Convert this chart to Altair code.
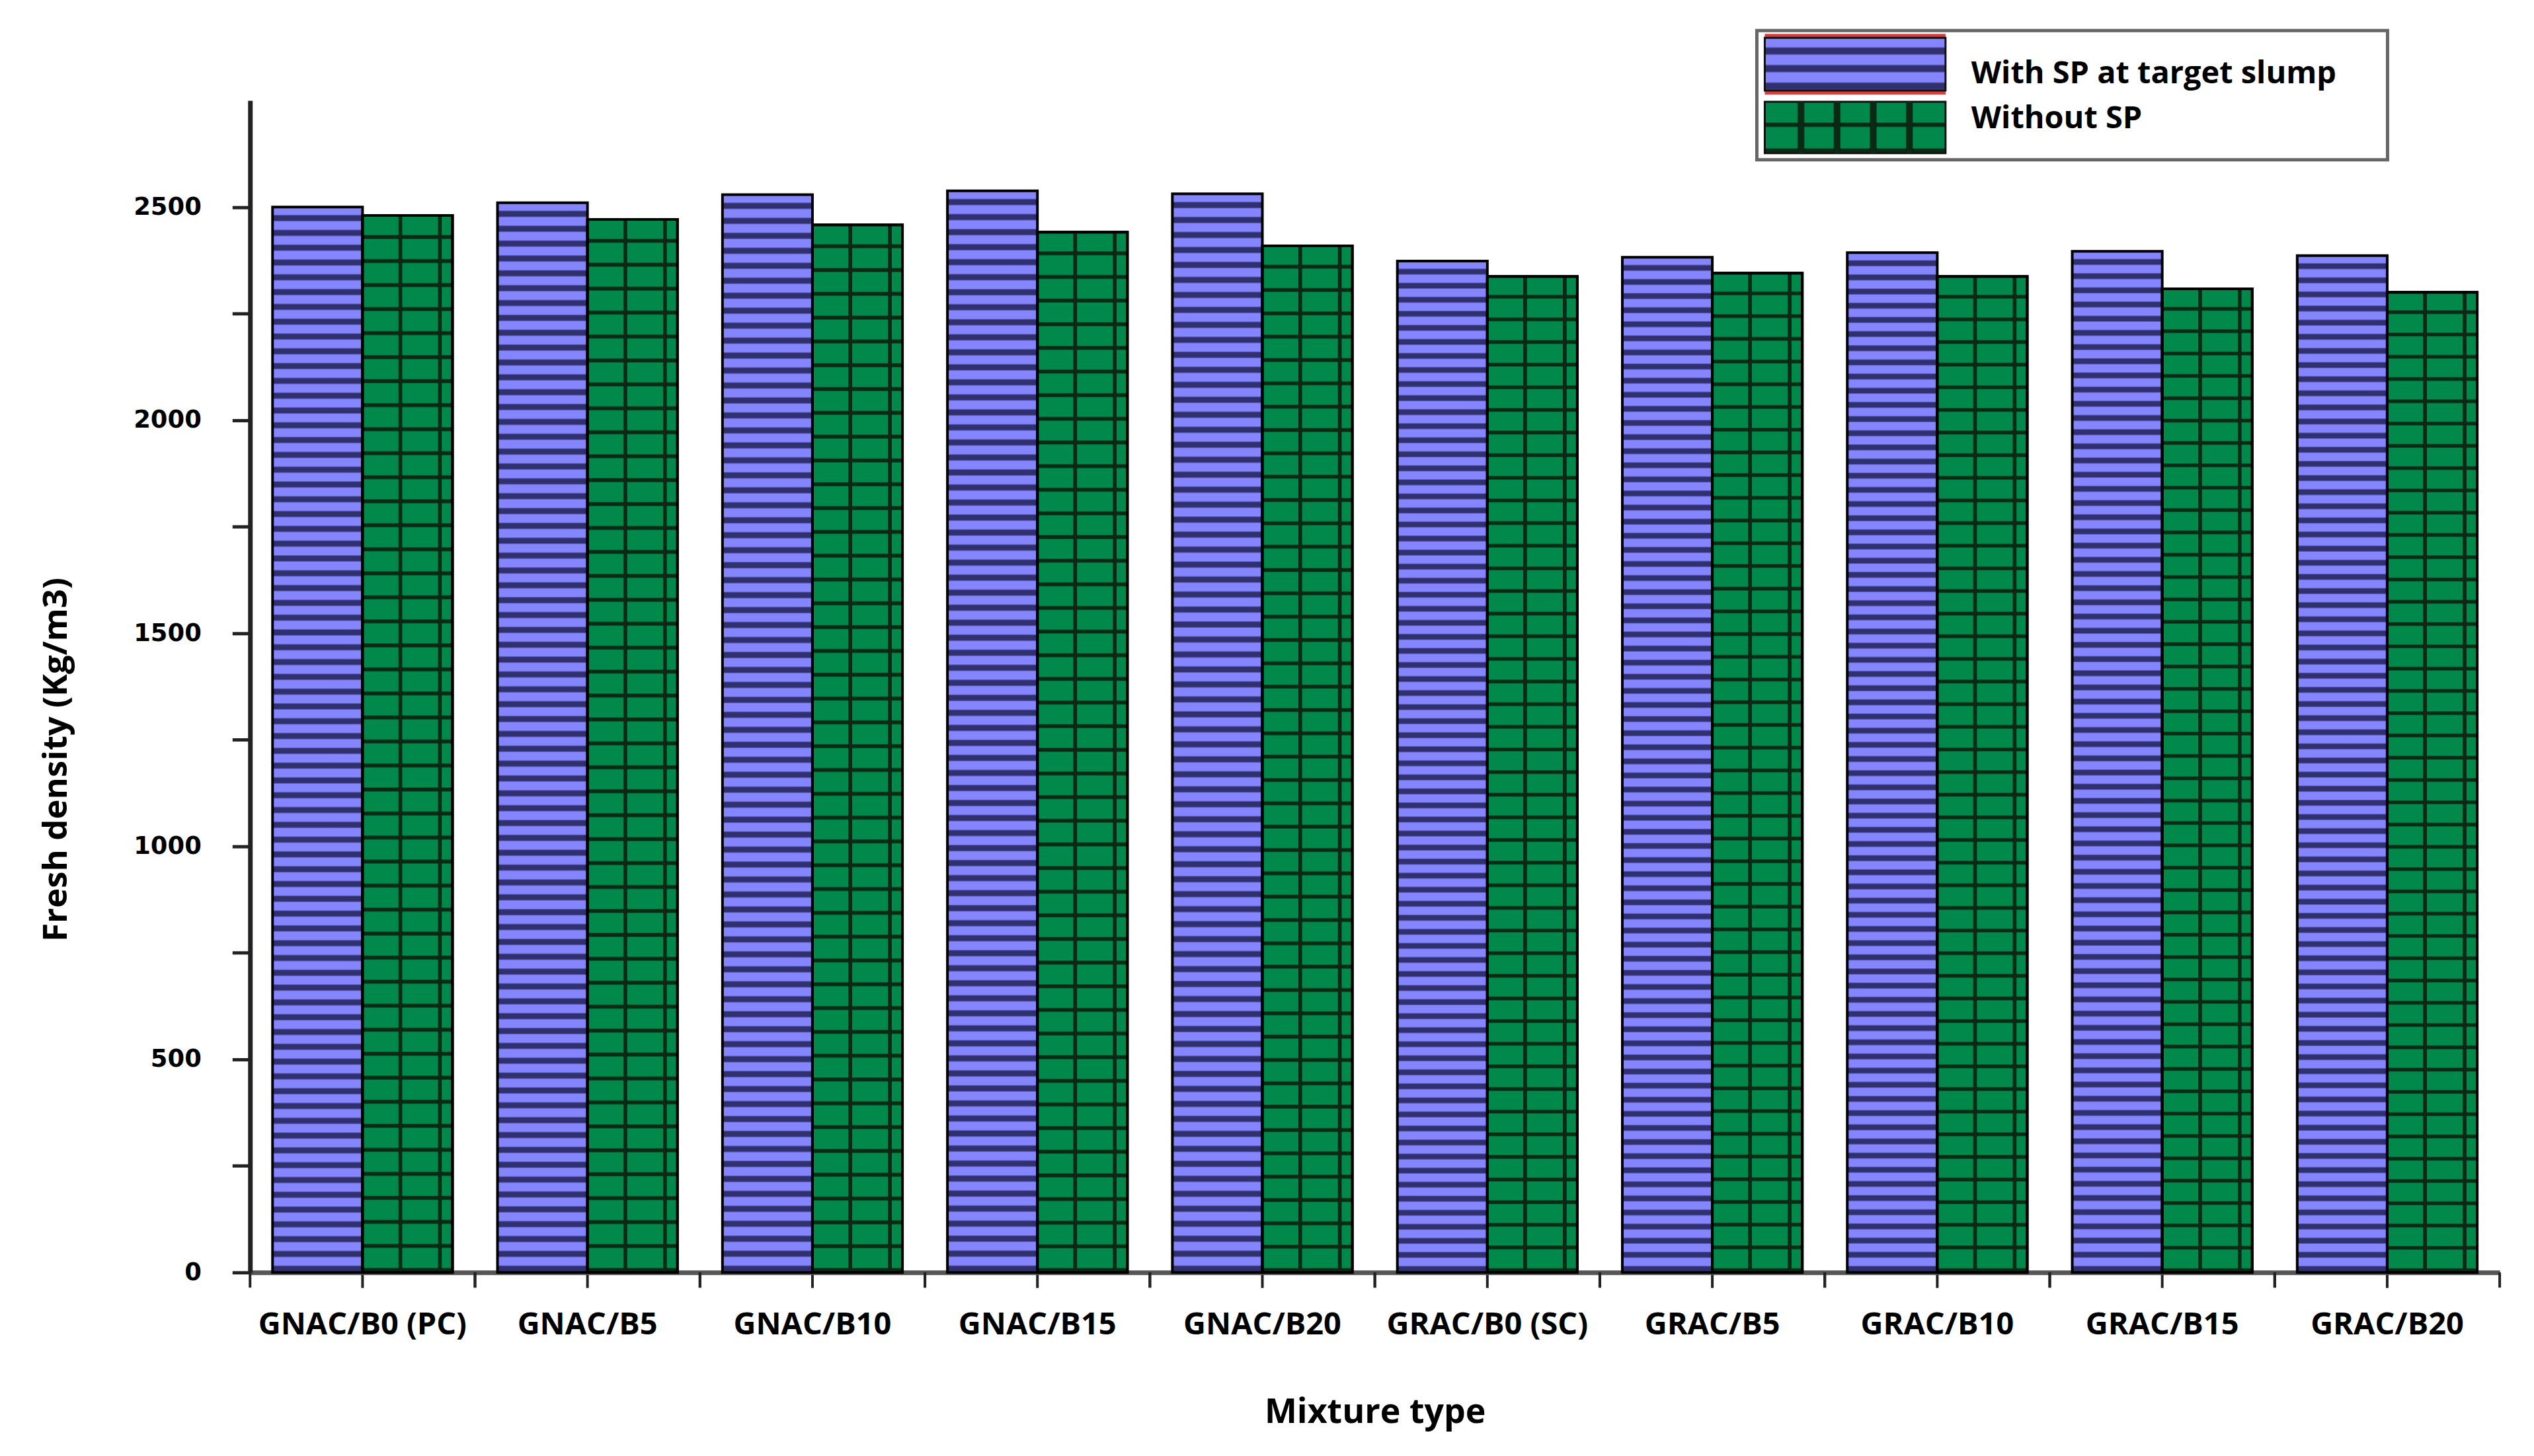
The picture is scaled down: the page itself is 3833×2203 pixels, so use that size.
import altair as alt
import pandas as pd

# ---------------- data ----------------
mixtures = ["GNAC/B0 (PC)", "GNAC/B5", "GNAC/B10", "GNAC/B15", "GNAC/B20",
            "GRAC/B0 (SC)", "GRAC/B5", "GRAC/B10", "GRAC/B15", "GRAC/B20"]
series = ["With SP at target slump", "Without SP"]
with_sp = [2500, 2510, 2529, 2538, 2531, 2373, 2382, 2393, 2396, 2386]
without_sp = [2480, 2471, 2458, 2441, 2409, 2337, 2345, 2337, 2308, 2300]
y_ticks = [0, 250, 500, 750, 1000, 1250, 1500, 1750, 2000, 2250, 2500]
y_max = 2750

rows = []
for m, a, b in zip(mixtures, with_sp, without_sp):
    rows.append({"mix": m, "series": series[0], "value": a})
    rows.append({"mix": m, "series": series[1], "value": b})
df = pd.DataFrame(rows)
cat_df = pd.DataFrame({"mix": mixtures})

# ---------------- styles ----------------
W, H = 3410, 1777
T = "rgba(0,0,0,0)"
BLUE_L, BLUE_D = "#8585FF", "#30306E"
GREEN, GREEN_D = "#00894A", "#0A2A16"


def stripes(n, base, line, frac, soft, vertical=True):
    stops = []
    s = 1.0 / n
    for i in range(n):
        o = i * s
        pts = [(o, base), (o + s * (1 - frac - soft), base), (o + s * (1 - frac), line),
               (o + s * (1 - soft), line), (o + s, base)]
        for off, c in pts:
            stops.append({"offset": round(min(max(off, 0.0), 1.0), 5), "color": c})
    g = {"gradient": "linear", "stops": stops, "x1": 0, "y1": 0}
    if vertical:
        g.update({"x2": 0, "y2": 1})
    else:
        g.update({"x2": 1, "y2": 0})
    return g


def vlines(positions, width, color):
    stops = [{"offset": 0, "color": T}]
    for p in positions:
        stops += [{"offset": round(p - width / 2 - 0.006, 5), "color": T},
                  {"offset": round(p - width / 2, 5), "color": color},
                  {"offset": round(p + width / 2, 5), "color": color},
                  {"offset": round(p + width / 2 + 0.006, 5), "color": T}]
    stops.append({"offset": 1, "color": T})
    return {"gradient": "linear", "stops": stops, "x1": 0, "y1": 0, "x2": 1, "y2": 0}


blue_fill = stripes(72, BLUE_L, BLUE_D, 0.4, 0.1)
green_fill = stripes(44, GREEN, GREEN_D, 0.16, 0.05)
green_grid = vlines([0.42, 0.86], 0.035, GREEN_D)
blue_leg = stripes(3, BLUE_L, BLUE_D, 0.4, 0.1)
green_leg = stripes(2, GREEN, GREEN_D, 0.16, 0.05)
green_leg_grid = vlines([0.2, 0.4, 0.6, 0.8], 0.03, GREEN_D)

LABEL_FONT = "Open Sans"

x_axis = alt.Axis(title="Mixture type", labelAngle=0, tickSize=23, tickWidth=4,
                  tickColor="#222", domainColor="#555", domainWidth=7,
                  labelFont=LABEL_FONT, labelFontWeight="bold", labelFontSize=47,
                  labelColor="black", labelPadding=33, labelLimit=0, labelOverlap=False,
                  titleFont=LABEL_FONT, titleFontWeight="bold", titleFontSize=52,
                  titleColor="black", titleY=212, titleBaseline="middle")
y_axis = alt.Axis(values=y_ticks, format="d",
                  labelExpr="datum.value % 500 === 0 ? datum.label : ''",
                  tickSize=27, tickWidth=5, tickColor="#222", domainColor="#222",
                  domainWidth=7, labelFont="DejaVu Sans", labelFontWeight="bold",
                  labelFontSize=37, labelColor="black", labelPadding=47, grid=False,
                  title="Fresh density (Kg/m3)", titleFont=LABEL_FONT,
                  titleFontWeight="bold", titleFontSize=51, titleColor="black",
                  titleX=-293, titleY=999, titleAngle=270, titleAlign="center",
                  titleBaseline="middle")

x_scale = alt.Scale(paddingInner=0, paddingOuter=0)

base = alt.Chart(df).encode(
    x=alt.X("mix:N", sort=mixtures, axis=x_axis, scale=x_scale),
    xOffset=alt.XOffset("series:N", scale=alt.Scale(domain=series, paddingInner=0,
                                                    paddingOuter=0.25)),
    y=alt.Y("value:Q", axis=y_axis, scale=alt.Scale(domain=[0, y_max], nice=False)),
)

blue_bars = base.transform_filter(alt.datum.series == series[0]).mark_bar(
    fill=blue_fill, stroke="black", strokeWidth=4)
green_bars = base.transform_filter(alt.datum.series == series[1]).mark_bar(
    fill=green_fill, stroke="black", strokeWidth=4)
green_grid_bars = base.transform_filter(alt.datum.series == series[1]).mark_bar(
    fill=green_grid, stroke="black", strokeWidth=4)

# boundary ticks on the category axis
tick0 = alt.Chart(cat_df).mark_rule(color="#222", strokeWidth=4).encode(
    x=alt.X("mix:N", sort=mixtures, bandPosition=0, axis=x_axis, scale=x_scale),
    y=alt.value(H), y2=alt.value(H + 23))
tick1 = alt.Chart(cat_df).mark_rule(color="#222", strokeWidth=4).encode(
    x=alt.X("mix:N", sort=mixtures, bandPosition=1, axis=x_axis, scale=x_scale),
    y=alt.value(H), y2=alt.value(H + 23))

# ---------------- legend ----------------
leg1 = pd.DataFrame({"series": [series[0]]})
leg2 = pd.DataFrame({"series": [series[1]]})
LX0, LX1, LY0, LY1 = 2284, 3240, -106, 90
SX0, SX1 = 2296, 2570

leg_box = alt.Chart(leg1).mark_rect(fill="white", stroke="#666", strokeWidth=5).encode(
    x=alt.value(LX0), x2=alt.value(LX1), y=alt.value(LY0), y2=alt.value(LY1))
leg_red = alt.Chart(leg1).mark_rect(fill="#E03A3A").encode(
    x=alt.value(SX0), x2=alt.value(SX1), y=alt.value(-101), y2=alt.value(-9))
leg_blue = alt.Chart(leg1).mark_rect(fill=blue_leg, stroke="#111", strokeWidth=3).encode(
    x=alt.value(SX0), x2=alt.value(SX1), y=alt.value(-95), y2=alt.value(-15))
leg_green = alt.Chart(leg2).mark_rect(fill=green_leg, stroke="#111", strokeWidth=3).encode(
    x=alt.value(SX0), x2=alt.value(SX1), y=alt.value(2), y2=alt.value(80))
leg_green_grid = alt.Chart(leg2).mark_rect(fill=green_leg_grid).encode(
    x=alt.value(SX0), x2=alt.value(SX1), y=alt.value(2), y2=alt.value(80))
leg_t1 = alt.Chart(leg1).mark_text(align="left", baseline="middle", font=LABEL_FONT,
                                   fontWeight="bold", fontSize=47, color="black").encode(
    x=alt.value(2609), y=alt.value(-40), text="series:N")
leg_t2 = alt.Chart(leg2).mark_text(align="left", baseline="middle", font=LABEL_FONT,
                                   fontWeight="bold", fontSize=47, color="black").encode(
    x=alt.value(2609), y=alt.value(28), text="series:N")

chart = alt.layer(
    blue_bars, green_bars, green_grid_bars, tick0, tick1,
    leg_box, leg_red, leg_blue, leg_green, leg_green_grid, leg_t1, leg_t2,
).properties(
    width=W, height=H, autosize=alt.AutoSizeParams(type="none"),
    padding={"left": 371, "top": 142, "right": 44, "bottom": 276},
    background="white",
).configure_view(stroke=None)

chart.save("out.html", embed_options={"renderer": "svg", "actions": False})
